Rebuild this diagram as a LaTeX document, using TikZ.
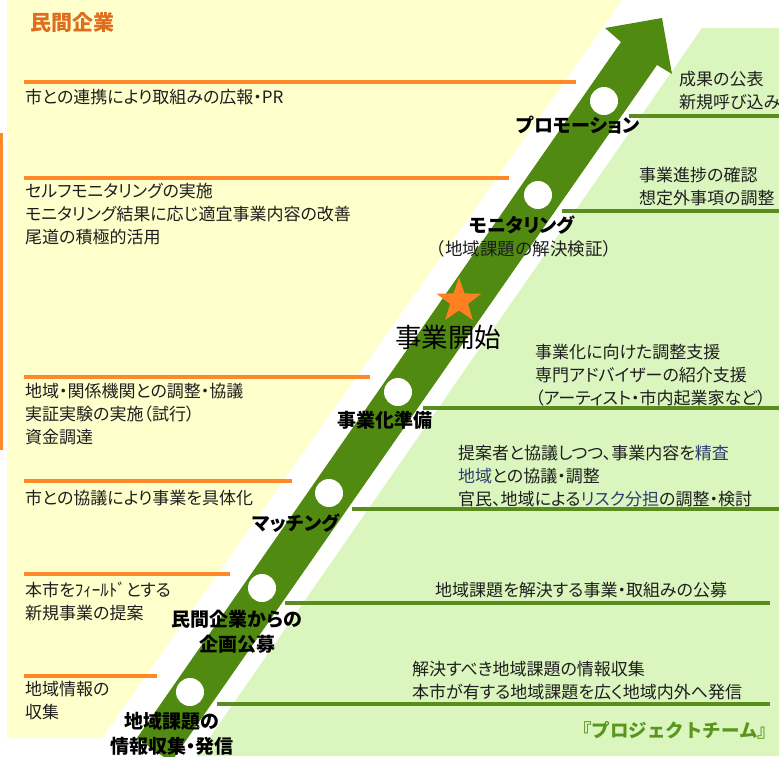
\documentclass[tikz,border=0pt]{standalone}
\usepackage{fontspec}
\setmainfont{Noto Sans CJK JP}[RawFeature=+palt]
\newfontfamily\monojp{Noto Sans CJK JP}
\usepackage{xcolor}
\usetikzlibrary{shapes.geometric,positioning}

\definecolor{paleyellow}{RGB}{255,255,204}
\definecolor{palegreen}{RGB}{218,245,190}
\definecolor{arrowgreen}{RGB}{80,138,16}
\definecolor{lineorange}{RGB}{255,136,40}
\definecolor{linegreen}{RGB}{90,140,30}
\definecolor{titleorange}{RGB}{224,108,30}
\definecolor{starorange}{RGB}{255,128,32}
\definecolor{teamgreen}{RGB}{90,150,30}
\definecolor{keyblue}{RGB}{50,60,110}
\definecolor{textgray}{RGB}{30,30,30}

\begin{document}
\begin{tikzpicture}[x=1pt, y=-1pt,
    note/.style={anchor=west, align=left, inner sep=0pt, text=textgray, font=\fontsize{17}{23}\selectfont},
    stage/.style={align=center, inner sep=0pt, font=\bfseries\fontsize{19}{25}\selectfont},
    leftline/.style={draw=lineorange, line width=4pt},
    rightline/.style={draw=linegreen, line width=4pt},
    dot/.style={circle, fill=white, minimum size=28pt, inner sep=0pt}]

    % backgrounds
    \clip (0,0) rectangle (779,756);
    \fill[paleyellow] (7,0) -- (622,0) -- (102,738) -- (7,738) -- cycle;
    \fill[palegreen] (702,28) -- (779,28) -- (779,756) -- (197,756) -- cycle;
    \draw[lineorange, line width=3pt] (1.5,133) -- (1.5,450);

    % arrow
    \fill[arrowgreen] (137,738) -- (621,42) -- (605,28) -- (662,18) -- (672,74) -- (657,65) -- (171,762) -- cycle;

    \node[dot] (d-info) at (190,692) {};
    \node[dot] (d-call) at (262,588) {};
    \node[dot] (d-match) at (329,493) {};
    \node[dot] (d-prep) at (398,392) {};
    \node[star, star points=5, star point ratio=2.5, fill=starorange, minimum size=47pt, inner sep=0pt] (start) at (459,301) {};
    \node[dot] (d-mon) at (538,195) {};
    \node[dot] (d-promo) at (604,101) {};

    % stages
    \node[stage] (promo) at (578,125) {プロモーション};
    \node[stage] (mon) at (522,225) {モニタリング};
    \node[note, anchor=center, font=\monojp\fontsize{17.5}{23}\selectfont] (mon-sub) at (524,249) {（地域課題の解決検証）};
    \node[inner sep=0pt, text=black, font=\fontsize{26.5}{26.5}\selectfont] (kaishi) at (448,337) {事業開始};
    \node[stage] (prep) at (385,420) {事業化準備};
    \node[stage] (match) at (296,523) {マッチング};
    \node[stage] (call) at (237,632) {民間企業からの\\企画公募};
    \node[stage] (info) at (172,734) {地域課題の\\情報収集・発信};

    % private side
    \node[anchor=west, inner sep=0pt, text=titleorange, font=\bfseries\fontsize{21}{21}\selectfont] (company) at (30,22) {民間企業};
    \draw[leftline] (24,82) -- (576,82);
    \draw[leftline] (24,178) -- (509,178);
    \draw[leftline] (24,377) -- (370,377);
    \draw[leftline] (24,481) -- (292,481);
    \draw[leftline] (24,574) -- (230,574);
    \draw[leftline] (24,676) -- (157,676);
    \node[note] (l-promo) at (25,97) {市との連携により取組みの広報・PR};
    \node[note] (l-mon) at (25,214) {セルフモニタリングの実施\\モニタリング結果に応じ適宜事業内容の改善\\尾道の積極的活用};
    \node[note] (l-prep) at (25,414) {地域・関係機関との調整・協議\\実証実験の実施（試行）\\資金調達};
    \node[note] (l-match) at (25,498) {市との協議により事業を具体化};
    \node[note] (l-call) at (25,601) {本市をﾌｨｰﾙﾄﾞとする\\新規事業の提案};
    \node[note] (l-info) at (25,701) {地域情報の\\収集};

    % team side
    \draw[rightline] (629,116) -- (779,116);
    \draw[rightline] (562,211) -- (779,211);
    \draw[rightline] (423,408) -- (779,408);
    \draw[rightline] (352,509) -- (779,509);
    \draw[rightline] (285,603) -- (770,603);
    \draw[rightline] (217,704) -- (770,704);
    \node[note] (r-promo) at (679,91) {成果の公表\\新規呼び込み};
    \node[note] (r-mon) at (639,187) {事業進捗の確認\\想定外事項の調整};
    \node[note] (r-prep) at (535,375) {事業化に向けた調整支援\\専門アドバイザーの紹介支援\\（アーティスト・市内起業家など）};
    \node[note] (r-match) at (458,476) {提案者と協議しつつ、事業内容を{\color{keyblue}精査}\\{\color{keyblue}地域}との協議・調整\\官民、地域による{\color{keyblue}リスク分担}の調整・検討};
    \node[note] (r-call) at (435,590) {地域課題を解決する事業・取組みの公募};
    \node[note] (r-info) at (412,681) {解決すべき地域課題の情報収集\\本市が有する地域課題を広く地域内外へ発信};
    \node[anchor=west, inner sep=0pt, text=teamgreen, font=\monojp\bfseries\fontsize{18.5}{18.5}\selectfont] (team) at (573,730) {『プロジェクトチーム』};

\end{tikzpicture}
\end{document}
